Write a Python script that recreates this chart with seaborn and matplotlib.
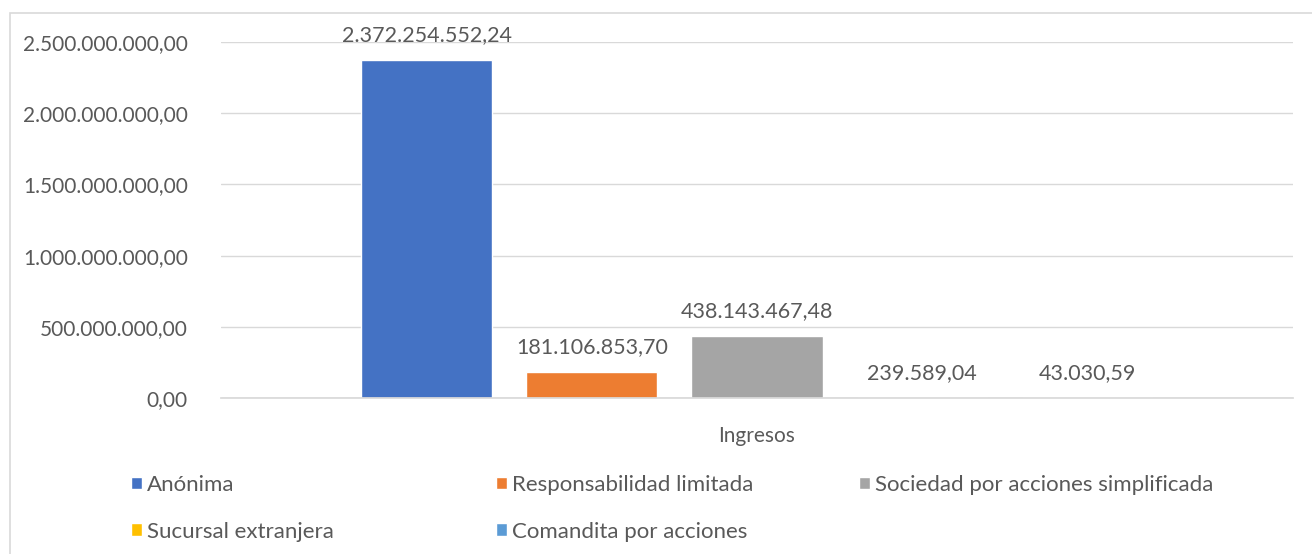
import matplotlib
matplotlib.use("Agg")
import matplotlib.pyplot as plt
import seaborn as sns
import pandas as pd
from matplotlib.patches import Rectangle
from matplotlib.ticker import FuncFormatter

categories = ["Anónima", "Responsabilidad limitada", "Sociedad por acciones simplificada",
              "Sucursal extranjera", "Comandita por acciones"]
values = [2372254552.24, 181106853.70, 438143467.48, 239589.04, 43030.59]
group = ["Ingresos"] * 5
colors = ["#4472C4", "#ED7D31", "#A5A5A5", "#FFC000", "#5B9BD5"]
yticks = [0, 500000000, 1000000000, 1500000000, 2000000000, 2500000000]

def fmt(v, pos=None):
    s = f"{v:,.2f}"
    return s.replace(",", "X").replace(".", ",").replace("X", ".")

sns.set_theme(style="white")
plt.rcParams["font.family"] = ["Lato", "DejaVu Sans"]
TXT = "#595959"
FS = 15

df = pd.DataFrame({"grupo": group, "tipo": categories, "valor": values})

fig = plt.figure(figsize=(13.12, 5.54), dpi=100)
ax = fig.add_axes([221/1312, 1-398/554, (1293-221)/1312, (398-42)/554])

sns.barplot(data=df, x="grupo", y="valor", hue="tipo", hue_order=categories,
            palette=colors, width=0.77, gap=0.206, saturation=1, ax=ax, legend=True)

ax.set_ylim(0, 2500000000)
ax.set_xlim(-0.5, 0.5)
ax.set_yticks(yticks)
ax.yaxis.set_major_formatter(FuncFormatter(fmt))
ax.grid(axis="y", color="#D9D9D9", lw=1)
ax.set_axisbelow(True)
for s in ["top", "right", "left"]:
    ax.spines[s].set_visible(False)
ax.spines["bottom"].set_color("#D9D9D9")
ax.tick_params(axis="both", length=0, labelsize=FS, labelcolor=TXT)
ax.tick_params(axis="y", pad=24)
ax.tick_params(axis="x", pad=20)
ax.set_xlabel("")
ax.set_ylabel("")

for cont in ax.containers:
    for bar in cont:
        h = bar.get_height()
        ax.annotate(fmt(h), (bar.get_x() + bar.get_width()/2, h),
                    xytext=(0, 18), textcoords="offset points",
                    ha="center", va="center", fontsize=15.5, color=TXT,
                    annotation_clip=False)

handles, labels = ax.get_legend_handles_labels()
ax.get_legend().remove()
hmap = dict(zip(labels, handles))
cols = [["Anónima", "Sucursal extranjera"],
        ["Responsabilidad limitada", "Comandita por acciones"],
        ["Sociedad por acciones simplificada"]]
xs = [131, 496, 859]
for xpix, col in zip(xs, cols):
    fig.legend([hmap[c] for c in col], col, loc="upper left",
               bbox_to_anchor=(xpix/1312, 1-475/554), frameon=False,
               fontsize=16, labelcolor=TXT, handlelength=0.5, handleheight=0.5,
               handletextpad=0.2, labelspacing=1.2, borderpad=0, borderaxespad=0)

fig.patches.append(Rectangle((10/1312, -0.1), 1.2, 1.1 - 13/554, transform=fig.transFigure,
                             fill=False, edgecolor="#D9D9D9", lw=1.2))

fig.savefig("out.png", dpi=100)
